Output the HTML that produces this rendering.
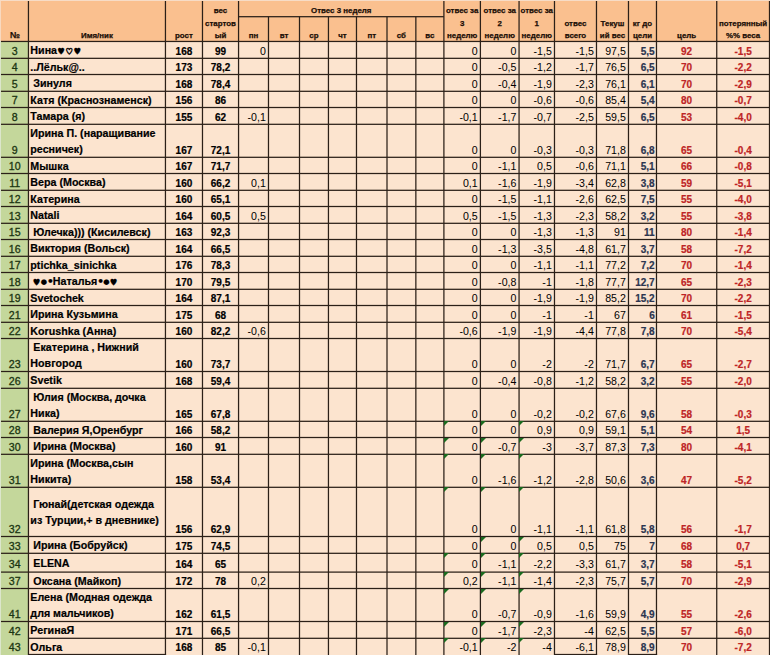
<!DOCTYPE html>
<html><head><meta charset="utf-8"><title>sheet</title>
<style>
html,body{margin:0;padding:0}
body{width:770px;height:655px;overflow:hidden;position:relative;background:#FCE4CF;font-family:"Liberation Sans", sans-serif}
.r{position:absolute}
.t{position:absolute;white-space:nowrap;line-height:14px;font-family:"Liberation Sans", sans-serif}
.hs{font-family:"NanumGothic","DejaVu Sans",sans-serif;font-size:8.6px}
.ho{font-family:"NanumGothic","DejaVu Sans",sans-serif;font-size:8.6px;font-weight:700;-webkit-text-stroke:0.4px #000}
.bd{font-family:"DejaVu Sans",sans-serif;font-size:7.2px;position:relative;top:-1.5px}
.sd{font-family:"DejaVu Sans",sans-serif;font-size:10.5px;letter-spacing:-0.8px}
.b{-webkit-text-stroke:0.2px currentColor}
.h{-webkit-text-stroke:0.25px #1a0e06}
.a{-webkit-text-stroke:0.3px #1a3510}
.g{position:absolute;left:0;top:0}
.tri{position:absolute;width:0;height:0;border-top:5px solid #1A6A1F;border-right:5px solid transparent}
</style></head><body>
<div class="r" style="left:0px;top:0px;width:770px;height:41px;background:#FAC08F;"></div>
<div class="r" style="left:0px;top:41px;width:770px;height:614px;background:#FCE4CF;"></div>
<div class="r" style="left:0px;top:41px;width:28px;height:614px;background:#C4D79B;"></div>
<div class="r" style="left:0px;top:0px;width:1px;height:41px;background:#F8D9C0;"></div>
<div class="r" style="left:0px;top:41px;width:1px;height:614px;background:#DCE6CC;"></div>
<div class="r" style="left:0px;top:0px;width:770px;height:1px;background:#F7DCC6;"></div>
<svg class="g" width="770" height="655" viewBox="0 0 770 655" fill="#2b2018"><rect x="27.825" y="1.000" width="1.25" height="654.000"/><rect x="164.825" y="1.000" width="1.25" height="654.000"/><rect x="201.855" y="1.000" width="1.25" height="654.000"/><rect x="237.925" y="1.000" width="1.25" height="654.000"/><rect x="267.855" y="16.700" width="1.25" height="638.300"/><rect x="298.875" y="16.700" width="1.25" height="638.300"/><rect x="327.825" y="16.700" width="1.25" height="638.300"/><rect x="355.855" y="16.700" width="1.25" height="638.300"/><rect x="386.375" y="16.700" width="1.25" height="638.300"/><rect x="415.225" y="16.700" width="1.25" height="638.300"/><rect x="443.275" y="1.000" width="1.25" height="654.000"/><rect x="479.775" y="1.000" width="1.25" height="654.000"/><rect x="518.435" y="1.000" width="1.25" height="654.000"/><rect x="553.855" y="1.000" width="1.25" height="654.000"/><rect x="595.855" y="1.000" width="1.25" height="654.000"/><rect x="627.855" y="1.000" width="1.25" height="654.000"/><rect x="655.855" y="1.000" width="1.25" height="654.000"/><rect x="716.115" y="1.000" width="1.25" height="654.000"/><rect x="768.875" y="1.000" width="1.25" height="654.000"/><rect x="238.550" y="16.075" width="205.350" height="1.25"/><rect x="1.000" y="40.835" width="769.000" height="1.25"/><rect x="1.000" y="57.705" width="769.000" height="1.25"/><rect x="1.000" y="73.875" width="769.000" height="1.25"/><rect x="1.000" y="90.675" width="769.000" height="1.25"/><rect x="1.000" y="106.875" width="769.000" height="1.25"/><rect x="1.000" y="123.675" width="769.000" height="1.25"/><rect x="1.000" y="156.675" width="769.000" height="1.25"/><rect x="1.000" y="172.875" width="769.000" height="1.25"/><rect x="1.000" y="189.675" width="769.000" height="1.25"/><rect x="1.000" y="205.875" width="769.000" height="1.25"/><rect x="1.000" y="222.675" width="769.000" height="1.25"/><rect x="1.000" y="238.875" width="769.000" height="1.25"/><rect x="1.000" y="255.675" width="769.000" height="1.25"/><rect x="1.000" y="271.875" width="769.000" height="1.25"/><rect x="1.000" y="288.675" width="769.000" height="1.25"/><rect x="1.000" y="304.875" width="769.000" height="1.25"/><rect x="1.000" y="321.675" width="769.000" height="1.25"/><rect x="1.000" y="337.875" width="769.000" height="1.25"/><rect x="1.000" y="370.875" width="769.000" height="1.25"/><rect x="1.000" y="387.675" width="769.000" height="1.25"/><rect x="1.000" y="420.675" width="769.000" height="1.25"/><rect x="1.000" y="436.875" width="769.000" height="1.25"/><rect x="1.000" y="453.675" width="769.000" height="1.25"/><rect x="1.000" y="486.675" width="769.000" height="1.25"/><rect x="1.000" y="535.875" width="769.000" height="1.25"/><rect x="1.000" y="552.675" width="769.000" height="1.25"/><rect x="1.000" y="571.475" width="769.000" height="1.25"/><rect x="1.000" y="587.875" width="769.000" height="1.25"/><rect x="1.000" y="620.875" width="769.000" height="1.25"/><rect x="28.450" y="637.675" width="741.550" height="1.25"/><rect x="28.450" y="653.875" width="137.625" height="1.25"/><rect x="554.480" y="653.875" width="42.625" height="1.25"/><rect x="628.480" y="653.875" width="28.625" height="1.25"/></svg>
<div class="t h" style="left:1.00px;width:27.45px;text-align:center;top:28.00px;font-size:8.8px;font-weight:700;color:#1a0e06">№</div>
<div class="t h" style="left:28.45px;width:137.00px;text-align:center;top:28.50px;font-size:7.9px;font-weight:700;color:#1a0e06">Имя/ник</div>
<div class="t h" style="left:165.45px;width:37.03px;text-align:center;top:28.50px;font-size:7.9px;font-weight:700;color:#1a0e06">рост</div>
<div class="t h" style="left:202.48px;width:36.07px;text-align:center;top:28.50px;font-size:7.9px;font-weight:700;color:#1a0e06">ый</div>
<div class="t h" style="left:202.48px;width:36.07px;text-align:center;top:16.50px;font-size:7.9px;font-weight:700;color:#1a0e06">стартов</div>
<div class="t h" style="left:202.48px;width:36.07px;text-align:center;top:3.50px;font-size:7.9px;font-weight:700;color:#1a0e06">вес</div>
<div class="t h" style="left:238.55px;width:29.93px;text-align:center;top:28.50px;font-size:7.9px;font-weight:700;color:#1a0e06">пн</div>
<div class="t h" style="left:268.48px;width:31.02px;text-align:center;top:28.50px;font-size:7.9px;font-weight:700;color:#1a0e06">вт</div>
<div class="t h" style="left:299.50px;width:28.95px;text-align:center;top:28.50px;font-size:7.9px;font-weight:700;color:#1a0e06">ср</div>
<div class="t h" style="left:328.45px;width:28.03px;text-align:center;top:28.50px;font-size:7.9px;font-weight:700;color:#1a0e06">чт</div>
<div class="t h" style="left:356.48px;width:30.52px;text-align:center;top:28.50px;font-size:7.9px;font-weight:700;color:#1a0e06">пт</div>
<div class="t h" style="left:387.00px;width:28.85px;text-align:center;top:28.50px;font-size:7.9px;font-weight:700;color:#1a0e06">сб</div>
<div class="t h" style="left:415.85px;width:28.05px;text-align:center;top:28.50px;font-size:7.9px;font-weight:700;color:#1a0e06">вс</div>
<div class="t h" style="left:238.55px;width:205.35px;text-align:center;top:3.50px;font-size:7.9px;font-weight:700;color:#1a0e06">Отвес 3 неделя</div>
<div class="t h" style="left:443.90px;width:36.50px;text-align:center;top:28.50px;font-size:7.9px;font-weight:700;color:#1a0e06">неделю</div>
<div class="t h" style="left:443.90px;width:36.50px;text-align:center;top:16.50px;font-size:7.9px;font-weight:700;color:#1a0e06">3</div>
<div class="t h" style="left:443.90px;width:36.50px;text-align:center;top:3.50px;font-size:7.9px;font-weight:700;color:#1a0e06">отвес за</div>
<div class="t h" style="left:480.40px;width:38.66px;text-align:center;top:28.50px;font-size:7.9px;font-weight:700;color:#1a0e06">неделю</div>
<div class="t h" style="left:480.40px;width:38.66px;text-align:center;top:16.50px;font-size:7.9px;font-weight:700;color:#1a0e06">2</div>
<div class="t h" style="left:480.40px;width:38.66px;text-align:center;top:3.50px;font-size:7.9px;font-weight:700;color:#1a0e06">отвес за</div>
<div class="t h" style="left:519.06px;width:35.42px;text-align:center;top:28.50px;font-size:7.9px;font-weight:700;color:#1a0e06">неделю</div>
<div class="t h" style="left:519.06px;width:35.42px;text-align:center;top:16.50px;font-size:7.9px;font-weight:700;color:#1a0e06">1</div>
<div class="t h" style="left:519.06px;width:35.42px;text-align:center;top:3.50px;font-size:7.9px;font-weight:700;color:#1a0e06">отвес за</div>
<div class="t h" style="left:554.48px;width:42.00px;text-align:center;top:28.50px;font-size:7.9px;font-weight:700;color:#1a0e06">всего</div>
<div class="t h" style="left:554.48px;width:42.00px;text-align:center;top:16.50px;font-size:7.9px;font-weight:700;color:#1a0e06">отвес</div>
<div class="t h" style="left:596.48px;width:32.00px;text-align:center;top:28.50px;font-size:7.9px;font-weight:700;color:#1a0e06">ий вес</div>
<div class="t h" style="left:596.48px;width:32.00px;text-align:center;top:16.50px;font-size:7.9px;font-weight:700;color:#1a0e06">Текуш</div>
<div class="t h" style="left:628.48px;width:28.00px;text-align:center;top:28.50px;font-size:7.9px;font-weight:700;color:#1a0e06">цели</div>
<div class="t h" style="left:628.48px;width:28.00px;text-align:center;top:16.50px;font-size:7.9px;font-weight:700;color:#1a0e06">кг до</div>
<div class="t h" style="left:656.48px;width:60.26px;text-align:center;top:28.50px;font-size:7.9px;font-weight:700;color:#1a0e06">цель</div>
<div class="t h" style="left:716.74px;width:52.76px;text-align:center;top:28.50px;font-size:7.9px;font-weight:700;color:#1a0e06">%% веса</div>
<div class="t h" style="left:716.74px;width:52.76px;text-align:center;top:16.50px;font-size:7.9px;font-weight:700;color:#1a0e06">потерянный</div>
<div class="t a" style="left:1.00px;width:27.45px;text-align:center;top:44.00px;font-size:10.6px;font-weight:400;color:#1a3510">3</div>
<div class="t b" style="left:30.35px;top:43.00px;font-size:10.7px;font-weight:700;color:#000">Нина<span class="hs">♥</span><span class="ho">♡</span><span class="hs">♥</span></div>
<div class="t b" style="left:165.45px;width:37.03px;text-align:center;top:44.50px;font-size:10.0px;font-weight:700;color:#000">168</div>
<div class="t b" style="left:202.48px;width:36.07px;text-align:center;top:44.50px;font-size:10.0px;font-weight:700;color:#000">99</div>
<div class="t" style="right:504.22px;top:44.00px;font-size:10.6px;font-weight:400;color:#000">0</div>
<div class="t" style="right:292.30px;top:44.00px;font-size:10.6px;font-weight:400;color:#000">0</div>
<div class="t" style="right:253.64px;top:44.00px;font-size:10.6px;font-weight:400;color:#000">0</div>
<div class="t" style="right:218.22px;top:44.00px;font-size:10.6px;font-weight:400;color:#000">-1,5</div>
<div class="t" style="right:176.22px;top:44.00px;font-size:10.6px;font-weight:400;color:#000">-1,5</div>
<div class="t" style="right:144.22px;top:44.00px;font-size:10.6px;font-weight:400;color:#000">97,5</div>
<div class="t b" style="right:115.32px;top:44.50px;font-size:10.0px;font-weight:700;color:#2B3550">5,5</div>
<div class="t b" style="left:656.48px;width:60.26px;text-align:center;top:44.50px;font-size:10.0px;font-weight:700;color:#BE2426">92</div>
<div class="t b" style="left:716.74px;width:52.76px;text-align:center;top:44.50px;font-size:10.0px;font-weight:700;color:#BE2426">-1,5</div>
<div class="t a" style="left:1.00px;width:27.45px;text-align:center;top:60.00px;font-size:10.6px;font-weight:400;color:#1a3510">4</div>
<div class="t b" style="left:30.35px;top:60.00px;font-size:10.7px;font-weight:700;color:#000">..Лёльк@..</div>
<div class="t b" style="left:165.45px;width:37.03px;text-align:center;top:60.50px;font-size:10.0px;font-weight:700;color:#000">173</div>
<div class="t b" style="left:202.48px;width:36.07px;text-align:center;top:60.50px;font-size:10.0px;font-weight:700;color:#000">78,2</div>
<div class="t" style="right:292.30px;top:60.00px;font-size:10.6px;font-weight:400;color:#000">0</div>
<div class="t" style="right:253.64px;top:60.00px;font-size:10.6px;font-weight:400;color:#000">-0,5</div>
<div class="t" style="right:218.22px;top:60.00px;font-size:10.6px;font-weight:400;color:#000">-1,2</div>
<div class="t" style="right:176.22px;top:60.00px;font-size:10.6px;font-weight:400;color:#000">-1,7</div>
<div class="t" style="right:144.22px;top:60.00px;font-size:10.6px;font-weight:400;color:#000">76,5</div>
<div class="t b" style="right:115.32px;top:60.50px;font-size:10.0px;font-weight:700;color:#2B3550">6,5</div>
<div class="t b" style="left:656.48px;width:60.26px;text-align:center;top:60.50px;font-size:10.0px;font-weight:700;color:#BE2426">70</div>
<div class="t b" style="left:716.74px;width:52.76px;text-align:center;top:60.50px;font-size:10.0px;font-weight:700;color:#BE2426">-2,2</div>
<div class="t a" style="left:1.00px;width:27.45px;text-align:center;top:77.00px;font-size:10.6px;font-weight:400;color:#1a3510">5</div>
<div class="t b" style="left:30.35px;top:76.00px;font-size:10.7px;font-weight:700;color:#000">&nbsp;Зинуля</div>
<div class="t b" style="left:165.45px;width:37.03px;text-align:center;top:77.50px;font-size:10.0px;font-weight:700;color:#000">168</div>
<div class="t b" style="left:202.48px;width:36.07px;text-align:center;top:77.50px;font-size:10.0px;font-weight:700;color:#000">78,4</div>
<div class="t" style="right:292.30px;top:77.00px;font-size:10.6px;font-weight:400;color:#000">0</div>
<div class="t" style="right:253.64px;top:77.00px;font-size:10.6px;font-weight:400;color:#000">-0,4</div>
<div class="t" style="right:218.22px;top:77.00px;font-size:10.6px;font-weight:400;color:#000">-1,9</div>
<div class="t" style="right:176.22px;top:77.00px;font-size:10.6px;font-weight:400;color:#000">-2,3</div>
<div class="t" style="right:144.22px;top:77.00px;font-size:10.6px;font-weight:400;color:#000">76,1</div>
<div class="t b" style="right:115.32px;top:77.50px;font-size:10.0px;font-weight:700;color:#2B3550">6,1</div>
<div class="t b" style="left:656.48px;width:60.26px;text-align:center;top:77.50px;font-size:10.0px;font-weight:700;color:#BE2426">70</div>
<div class="t b" style="left:716.74px;width:52.76px;text-align:center;top:77.50px;font-size:10.0px;font-weight:700;color:#BE2426">-2,9</div>
<div class="t a" style="left:1.00px;width:27.45px;text-align:center;top:93.00px;font-size:10.6px;font-weight:400;color:#1a3510">7</div>
<div class="t b" style="left:30.35px;top:93.00px;font-size:10.7px;font-weight:700;color:#000">Катя (Краснознаменск)</div>
<div class="t b" style="left:165.45px;width:37.03px;text-align:center;top:93.50px;font-size:10.0px;font-weight:700;color:#000">156</div>
<div class="t b" style="left:202.48px;width:36.07px;text-align:center;top:93.50px;font-size:10.0px;font-weight:700;color:#000">86</div>
<div class="t" style="right:292.30px;top:93.00px;font-size:10.6px;font-weight:400;color:#000">0</div>
<div class="t" style="right:253.64px;top:93.00px;font-size:10.6px;font-weight:400;color:#000">0</div>
<div class="t" style="right:218.22px;top:93.00px;font-size:10.6px;font-weight:400;color:#000">-0,6</div>
<div class="t" style="right:176.22px;top:93.00px;font-size:10.6px;font-weight:400;color:#000">-0,6</div>
<div class="t" style="right:144.22px;top:93.00px;font-size:10.6px;font-weight:400;color:#000">85,4</div>
<div class="t b" style="right:115.32px;top:93.50px;font-size:10.0px;font-weight:700;color:#2B3550">5,4</div>
<div class="t b" style="left:656.48px;width:60.26px;text-align:center;top:93.50px;font-size:10.0px;font-weight:700;color:#BE2426">80</div>
<div class="t b" style="left:716.74px;width:52.76px;text-align:center;top:93.50px;font-size:10.0px;font-weight:700;color:#BE2426">-0,7</div>
<div class="t a" style="left:1.00px;width:27.45px;text-align:center;top:110.00px;font-size:10.6px;font-weight:400;color:#1a3510">8</div>
<div class="t b" style="left:30.35px;top:109.00px;font-size:10.7px;font-weight:700;color:#000">Тамара (я)</div>
<div class="t b" style="left:165.45px;width:37.03px;text-align:center;top:110.50px;font-size:10.0px;font-weight:700;color:#000">155</div>
<div class="t b" style="left:202.48px;width:36.07px;text-align:center;top:110.50px;font-size:10.0px;font-weight:700;color:#000">62</div>
<div class="t" style="right:504.22px;top:110.00px;font-size:10.6px;font-weight:400;color:#000">-0,1</div>
<div class="t" style="right:292.30px;top:110.00px;font-size:10.6px;font-weight:400;color:#000">-0,1</div>
<div class="t" style="right:253.64px;top:110.00px;font-size:10.6px;font-weight:400;color:#000">-1,7</div>
<div class="t" style="right:218.22px;top:110.00px;font-size:10.6px;font-weight:400;color:#000">-0,7</div>
<div class="t" style="right:176.22px;top:110.00px;font-size:10.6px;font-weight:400;color:#000">-2,5</div>
<div class="t" style="right:144.22px;top:110.00px;font-size:10.6px;font-weight:400;color:#000">59,5</div>
<div class="t b" style="right:115.32px;top:110.50px;font-size:10.0px;font-weight:700;color:#2B3550">6,5</div>
<div class="t b" style="left:656.48px;width:60.26px;text-align:center;top:110.50px;font-size:10.0px;font-weight:700;color:#BE2426">53</div>
<div class="t b" style="left:716.74px;width:52.76px;text-align:center;top:110.50px;font-size:10.0px;font-weight:700;color:#BE2426">-4,0</div>
<div class="t a" style="left:1.00px;width:27.45px;text-align:center;top:143.00px;font-size:10.6px;font-weight:400;color:#1a3510">9</div>
<div class="t b" style="left:30.35px;top:126.00px;font-size:10.7px;font-weight:700;color:#000">Ирина П. (наращивание</div>
<div class="t b" style="left:30.35px;top:142.00px;font-size:10.7px;font-weight:700;color:#000">ресничек)</div>
<div class="t b" style="left:165.45px;width:37.03px;text-align:center;top:143.50px;font-size:10.0px;font-weight:700;color:#000">167</div>
<div class="t b" style="left:202.48px;width:36.07px;text-align:center;top:143.50px;font-size:10.0px;font-weight:700;color:#000">72,1</div>
<div class="t" style="right:292.30px;top:143.00px;font-size:10.6px;font-weight:400;color:#000">0</div>
<div class="t" style="right:253.64px;top:143.00px;font-size:10.6px;font-weight:400;color:#000">0</div>
<div class="t" style="right:218.22px;top:143.00px;font-size:10.6px;font-weight:400;color:#000">-0,3</div>
<div class="t" style="right:176.22px;top:143.00px;font-size:10.6px;font-weight:400;color:#000">-0,3</div>
<div class="t" style="right:144.22px;top:143.00px;font-size:10.6px;font-weight:400;color:#000">71,8</div>
<div class="t b" style="right:115.32px;top:143.50px;font-size:10.0px;font-weight:700;color:#2B3550">6,8</div>
<div class="t b" style="left:656.48px;width:60.26px;text-align:center;top:143.50px;font-size:10.0px;font-weight:700;color:#BE2426">65</div>
<div class="t b" style="left:716.74px;width:52.76px;text-align:center;top:143.50px;font-size:10.0px;font-weight:700;color:#BE2426">-0,4</div>
<div class="t a" style="left:1.00px;width:27.45px;text-align:center;top:159.00px;font-size:10.6px;font-weight:400;color:#1a3510">10</div>
<div class="t b" style="left:30.35px;top:159.00px;font-size:10.7px;font-weight:700;color:#000">Мышка</div>
<div class="t b" style="left:165.45px;width:37.03px;text-align:center;top:159.50px;font-size:10.0px;font-weight:700;color:#000">167</div>
<div class="t b" style="left:202.48px;width:36.07px;text-align:center;top:159.50px;font-size:10.0px;font-weight:700;color:#000">71,7</div>
<div class="t" style="right:292.30px;top:159.00px;font-size:10.6px;font-weight:400;color:#000">0</div>
<div class="t" style="right:253.64px;top:159.00px;font-size:10.6px;font-weight:400;color:#000">-1,1</div>
<div class="t" style="right:218.22px;top:159.00px;font-size:10.6px;font-weight:400;color:#000">0,5</div>
<div class="t" style="right:176.22px;top:159.00px;font-size:10.6px;font-weight:400;color:#000">-0,6</div>
<div class="t" style="right:144.22px;top:159.00px;font-size:10.6px;font-weight:400;color:#000">71,1</div>
<div class="t b" style="right:115.32px;top:159.50px;font-size:10.0px;font-weight:700;color:#2B3550">5,1</div>
<div class="t b" style="left:656.48px;width:60.26px;text-align:center;top:159.50px;font-size:10.0px;font-weight:700;color:#BE2426">66</div>
<div class="t b" style="left:716.74px;width:52.76px;text-align:center;top:159.50px;font-size:10.0px;font-weight:700;color:#BE2426">-0,8</div>
<div class="t a" style="left:1.00px;width:27.45px;text-align:center;top:176.00px;font-size:10.6px;font-weight:400;color:#1a3510">11</div>
<div class="t b" style="left:30.35px;top:175.00px;font-size:10.7px;font-weight:700;color:#000">Вера (Москва)</div>
<div class="t b" style="left:165.45px;width:37.03px;text-align:center;top:176.50px;font-size:10.0px;font-weight:700;color:#000">160</div>
<div class="t b" style="left:202.48px;width:36.07px;text-align:center;top:176.50px;font-size:10.0px;font-weight:700;color:#000">66,2</div>
<div class="t" style="right:504.22px;top:176.00px;font-size:10.6px;font-weight:400;color:#000">0,1</div>
<div class="t" style="right:292.30px;top:176.00px;font-size:10.6px;font-weight:400;color:#000">0,1</div>
<div class="t" style="right:253.64px;top:176.00px;font-size:10.6px;font-weight:400;color:#000">-1,6</div>
<div class="t" style="right:218.22px;top:176.00px;font-size:10.6px;font-weight:400;color:#000">-1,9</div>
<div class="t" style="right:176.22px;top:176.00px;font-size:10.6px;font-weight:400;color:#000">-3,4</div>
<div class="t" style="right:144.22px;top:176.00px;font-size:10.6px;font-weight:400;color:#000">62,8</div>
<div class="t b" style="right:115.32px;top:176.50px;font-size:10.0px;font-weight:700;color:#2B3550">3,8</div>
<div class="t b" style="left:656.48px;width:60.26px;text-align:center;top:176.50px;font-size:10.0px;font-weight:700;color:#BE2426">59</div>
<div class="t b" style="left:716.74px;width:52.76px;text-align:center;top:176.50px;font-size:10.0px;font-weight:700;color:#BE2426">-5,1</div>
<div class="t a" style="left:1.00px;width:27.45px;text-align:center;top:192.00px;font-size:10.6px;font-weight:400;color:#1a3510">12</div>
<div class="t b" style="left:30.35px;top:192.00px;font-size:10.7px;font-weight:700;color:#000">Катерина</div>
<div class="t b" style="left:165.45px;width:37.03px;text-align:center;top:192.50px;font-size:10.0px;font-weight:700;color:#000">160</div>
<div class="t b" style="left:202.48px;width:36.07px;text-align:center;top:192.50px;font-size:10.0px;font-weight:700;color:#000">65,1</div>
<div class="t" style="right:292.30px;top:192.00px;font-size:10.6px;font-weight:400;color:#000">0</div>
<div class="t" style="right:253.64px;top:192.00px;font-size:10.6px;font-weight:400;color:#000">-1,5</div>
<div class="t" style="right:218.22px;top:192.00px;font-size:10.6px;font-weight:400;color:#000">-1,1</div>
<div class="t" style="right:176.22px;top:192.00px;font-size:10.6px;font-weight:400;color:#000">-2,6</div>
<div class="t" style="right:144.22px;top:192.00px;font-size:10.6px;font-weight:400;color:#000">62,5</div>
<div class="t b" style="right:115.32px;top:192.50px;font-size:10.0px;font-weight:700;color:#2B3550">7,5</div>
<div class="t b" style="left:656.48px;width:60.26px;text-align:center;top:192.50px;font-size:10.0px;font-weight:700;color:#BE2426">55</div>
<div class="t b" style="left:716.74px;width:52.76px;text-align:center;top:192.50px;font-size:10.0px;font-weight:700;color:#BE2426">-4,0</div>
<div class="t a" style="left:1.00px;width:27.45px;text-align:center;top:209.00px;font-size:10.6px;font-weight:400;color:#1a3510">13</div>
<div class="t b" style="left:30.35px;top:208.00px;font-size:10.7px;font-weight:700;color:#000">Natali</div>
<div class="t b" style="left:165.45px;width:37.03px;text-align:center;top:209.50px;font-size:10.0px;font-weight:700;color:#000">164</div>
<div class="t b" style="left:202.48px;width:36.07px;text-align:center;top:209.50px;font-size:10.0px;font-weight:700;color:#000">60,5</div>
<div class="t" style="right:504.22px;top:209.00px;font-size:10.6px;font-weight:400;color:#000">0,5</div>
<div class="t" style="right:292.30px;top:209.00px;font-size:10.6px;font-weight:400;color:#000">0,5</div>
<div class="t" style="right:253.64px;top:209.00px;font-size:10.6px;font-weight:400;color:#000">-1,5</div>
<div class="t" style="right:218.22px;top:209.00px;font-size:10.6px;font-weight:400;color:#000">-1,3</div>
<div class="t" style="right:176.22px;top:209.00px;font-size:10.6px;font-weight:400;color:#000">-2,3</div>
<div class="t" style="right:144.22px;top:209.00px;font-size:10.6px;font-weight:400;color:#000">58,2</div>
<div class="t b" style="right:115.32px;top:209.50px;font-size:10.0px;font-weight:700;color:#2B3550">3,2</div>
<div class="t b" style="left:656.48px;width:60.26px;text-align:center;top:209.50px;font-size:10.0px;font-weight:700;color:#BE2426">55</div>
<div class="t b" style="left:716.74px;width:52.76px;text-align:center;top:209.50px;font-size:10.0px;font-weight:700;color:#BE2426">-3,8</div>
<div class="t a" style="left:1.00px;width:27.45px;text-align:center;top:225.00px;font-size:10.6px;font-weight:400;color:#1a3510">15</div>
<div class="t b" style="left:30.35px;top:225.00px;font-size:10.7px;font-weight:700;color:#000">&nbsp;Юлечка)))&nbsp;(Кисилевск)</div>
<div class="t b" style="left:165.45px;width:37.03px;text-align:center;top:225.50px;font-size:10.0px;font-weight:700;color:#000">163</div>
<div class="t b" style="left:202.48px;width:36.07px;text-align:center;top:225.50px;font-size:10.0px;font-weight:700;color:#000">92,3</div>
<div class="t" style="right:292.30px;top:225.00px;font-size:10.6px;font-weight:400;color:#000">0</div>
<div class="t" style="right:253.64px;top:225.00px;font-size:10.6px;font-weight:400;color:#000">0</div>
<div class="t" style="right:218.22px;top:225.00px;font-size:10.6px;font-weight:400;color:#000">-1,3</div>
<div class="t" style="right:176.22px;top:225.00px;font-size:10.6px;font-weight:400;color:#000">-1,3</div>
<div class="t" style="right:144.22px;top:225.00px;font-size:10.6px;font-weight:400;color:#000">91</div>
<div class="t b" style="right:115.32px;top:225.50px;font-size:10.0px;font-weight:700;color:#2B3550">11</div>
<div class="t b" style="left:656.48px;width:60.26px;text-align:center;top:225.50px;font-size:10.0px;font-weight:700;color:#BE2426">80</div>
<div class="t b" style="left:716.74px;width:52.76px;text-align:center;top:225.50px;font-size:10.0px;font-weight:700;color:#BE2426">-1,4</div>
<div class="t a" style="left:1.00px;width:27.45px;text-align:center;top:242.00px;font-size:10.6px;font-weight:400;color:#1a3510">16</div>
<div class="t b" style="left:30.35px;top:241.00px;font-size:10.7px;font-weight:700;color:#000">Виктория (Вольск)</div>
<div class="t b" style="left:165.45px;width:37.03px;text-align:center;top:242.50px;font-size:10.0px;font-weight:700;color:#000">164</div>
<div class="t b" style="left:202.48px;width:36.07px;text-align:center;top:242.50px;font-size:10.0px;font-weight:700;color:#000">66,5</div>
<div class="t" style="right:292.30px;top:242.00px;font-size:10.6px;font-weight:400;color:#000">0</div>
<div class="t" style="right:253.64px;top:242.00px;font-size:10.6px;font-weight:400;color:#000">-1,3</div>
<div class="t" style="right:218.22px;top:242.00px;font-size:10.6px;font-weight:400;color:#000">-3,5</div>
<div class="t" style="right:176.22px;top:242.00px;font-size:10.6px;font-weight:400;color:#000">-4,8</div>
<div class="t" style="right:144.22px;top:242.00px;font-size:10.6px;font-weight:400;color:#000">61,7</div>
<div class="t b" style="right:115.32px;top:242.50px;font-size:10.0px;font-weight:700;color:#2B3550">3,7</div>
<div class="t b" style="left:656.48px;width:60.26px;text-align:center;top:242.50px;font-size:10.0px;font-weight:700;color:#BE2426">58</div>
<div class="t b" style="left:716.74px;width:52.76px;text-align:center;top:242.50px;font-size:10.0px;font-weight:700;color:#BE2426">-7,2</div>
<div class="t a" style="left:1.00px;width:27.45px;text-align:center;top:258.00px;font-size:10.6px;font-weight:400;color:#1a3510">17</div>
<div class="t b" style="left:30.35px;top:258.00px;font-size:10.7px;font-weight:700;color:#000">ptichka_sinichka</div>
<div class="t b" style="left:165.45px;width:37.03px;text-align:center;top:258.50px;font-size:10.0px;font-weight:700;color:#000">176</div>
<div class="t b" style="left:202.48px;width:36.07px;text-align:center;top:258.50px;font-size:10.0px;font-weight:700;color:#000">78,3</div>
<div class="t" style="right:292.30px;top:258.00px;font-size:10.6px;font-weight:400;color:#000">0</div>
<div class="t" style="right:253.64px;top:258.00px;font-size:10.6px;font-weight:400;color:#000">0</div>
<div class="t" style="right:218.22px;top:258.00px;font-size:10.6px;font-weight:400;color:#000">-1,1</div>
<div class="t" style="right:176.22px;top:258.00px;font-size:10.6px;font-weight:400;color:#000">-1,1</div>
<div class="t" style="right:144.22px;top:258.00px;font-size:10.6px;font-weight:400;color:#000">77,2</div>
<div class="t b" style="right:115.32px;top:258.50px;font-size:10.0px;font-weight:700;color:#2B3550">7,2</div>
<div class="t b" style="left:656.48px;width:60.26px;text-align:center;top:258.50px;font-size:10.0px;font-weight:700;color:#BE2426">70</div>
<div class="t b" style="left:716.74px;width:52.76px;text-align:center;top:258.50px;font-size:10.0px;font-weight:700;color:#BE2426">-1,4</div>
<div class="t a" style="left:1.00px;width:27.45px;text-align:center;top:275.00px;font-size:10.6px;font-weight:400;color:#1a3510">18</div>
<div class="t b" style="left:30.35px;top:274.00px;font-size:10.7px;font-weight:700;color:#000"><span style="margin-left:2.2px" class="hs">♥</span><span class="bd">●</span><span class="sd">•</span>Наталья<span class="sd">•</span><span class="bd">●</span><span class="hs">♥</span></div>
<div class="t b" style="left:165.45px;width:37.03px;text-align:center;top:275.50px;font-size:10.0px;font-weight:700;color:#000">170</div>
<div class="t b" style="left:202.48px;width:36.07px;text-align:center;top:275.50px;font-size:10.0px;font-weight:700;color:#000">79,5</div>
<div class="t" style="right:292.30px;top:275.00px;font-size:10.6px;font-weight:400;color:#000">0</div>
<div class="t" style="right:253.64px;top:275.00px;font-size:10.6px;font-weight:400;color:#000">-0,8</div>
<div class="t" style="right:218.22px;top:275.00px;font-size:10.6px;font-weight:400;color:#000">-1</div>
<div class="t" style="right:176.22px;top:275.00px;font-size:10.6px;font-weight:400;color:#000">-1,8</div>
<div class="t" style="right:144.22px;top:275.00px;font-size:10.6px;font-weight:400;color:#000">77,7</div>
<div class="t b" style="right:115.32px;top:275.50px;font-size:10.0px;font-weight:700;color:#2B3550">12,7</div>
<div class="t b" style="left:656.48px;width:60.26px;text-align:center;top:275.50px;font-size:10.0px;font-weight:700;color:#BE2426">65</div>
<div class="t b" style="left:716.74px;width:52.76px;text-align:center;top:275.50px;font-size:10.0px;font-weight:700;color:#BE2426">-2,3</div>
<div class="t a" style="left:1.00px;width:27.45px;text-align:center;top:291.00px;font-size:10.6px;font-weight:400;color:#1a3510">19</div>
<div class="t b" style="left:30.35px;top:291.00px;font-size:10.7px;font-weight:700;color:#000">Svetochek</div>
<div class="t b" style="left:165.45px;width:37.03px;text-align:center;top:291.50px;font-size:10.0px;font-weight:700;color:#000">164</div>
<div class="t b" style="left:202.48px;width:36.07px;text-align:center;top:291.50px;font-size:10.0px;font-weight:700;color:#000">87,1</div>
<div class="t" style="right:292.30px;top:291.00px;font-size:10.6px;font-weight:400;color:#000">0</div>
<div class="t" style="right:253.64px;top:291.00px;font-size:10.6px;font-weight:400;color:#000">0</div>
<div class="t" style="right:218.22px;top:291.00px;font-size:10.6px;font-weight:400;color:#000">-1,9</div>
<div class="t" style="right:176.22px;top:291.00px;font-size:10.6px;font-weight:400;color:#000">-1,9</div>
<div class="t" style="right:144.22px;top:291.00px;font-size:10.6px;font-weight:400;color:#000">85,2</div>
<div class="t b" style="right:115.32px;top:291.50px;font-size:10.0px;font-weight:700;color:#2B3550">15,2</div>
<div class="t b" style="left:656.48px;width:60.26px;text-align:center;top:291.50px;font-size:10.0px;font-weight:700;color:#BE2426">70</div>
<div class="t b" style="left:716.74px;width:52.76px;text-align:center;top:291.50px;font-size:10.0px;font-weight:700;color:#BE2426">-2,2</div>
<div class="t a" style="left:1.00px;width:27.45px;text-align:center;top:308.00px;font-size:10.6px;font-weight:400;color:#1a3510">21</div>
<div class="t b" style="left:30.35px;top:307.00px;font-size:10.7px;font-weight:700;color:#000">Ирина Кузьмина</div>
<div class="t b" style="left:165.45px;width:37.03px;text-align:center;top:308.50px;font-size:10.0px;font-weight:700;color:#000">175</div>
<div class="t b" style="left:202.48px;width:36.07px;text-align:center;top:308.50px;font-size:10.0px;font-weight:700;color:#000">68</div>
<div class="t" style="right:292.30px;top:308.00px;font-size:10.6px;font-weight:400;color:#000">0</div>
<div class="t" style="right:253.64px;top:308.00px;font-size:10.6px;font-weight:400;color:#000">0</div>
<div class="t" style="right:218.22px;top:308.00px;font-size:10.6px;font-weight:400;color:#000">-1</div>
<div class="t" style="right:176.22px;top:308.00px;font-size:10.6px;font-weight:400;color:#000">-1</div>
<div class="t" style="right:144.22px;top:308.00px;font-size:10.6px;font-weight:400;color:#000">67</div>
<div class="t b" style="right:115.32px;top:308.50px;font-size:10.0px;font-weight:700;color:#2B3550">6</div>
<div class="t b" style="left:656.48px;width:60.26px;text-align:center;top:308.50px;font-size:10.0px;font-weight:700;color:#BE2426">61</div>
<div class="t b" style="left:716.74px;width:52.76px;text-align:center;top:308.50px;font-size:10.0px;font-weight:700;color:#BE2426">-1,5</div>
<div class="t a" style="left:1.00px;width:27.45px;text-align:center;top:324.00px;font-size:10.6px;font-weight:400;color:#1a3510">22</div>
<div class="t b" style="left:30.35px;top:324.00px;font-size:10.7px;font-weight:700;color:#000">Korushka (Анна)</div>
<div class="t b" style="left:165.45px;width:37.03px;text-align:center;top:324.50px;font-size:10.0px;font-weight:700;color:#000">160</div>
<div class="t b" style="left:202.48px;width:36.07px;text-align:center;top:324.50px;font-size:10.0px;font-weight:700;color:#000">82,2</div>
<div class="t" style="right:504.22px;top:324.00px;font-size:10.6px;font-weight:400;color:#000">-0,6</div>
<div class="t" style="right:292.30px;top:324.00px;font-size:10.6px;font-weight:400;color:#000">-0,6</div>
<div class="t" style="right:253.64px;top:324.00px;font-size:10.6px;font-weight:400;color:#000">-1,9</div>
<div class="t" style="right:218.22px;top:324.00px;font-size:10.6px;font-weight:400;color:#000">-1,9</div>
<div class="t" style="right:176.22px;top:324.00px;font-size:10.6px;font-weight:400;color:#000">-4,4</div>
<div class="t" style="right:144.22px;top:324.00px;font-size:10.6px;font-weight:400;color:#000">77,8</div>
<div class="t b" style="right:115.32px;top:324.50px;font-size:10.0px;font-weight:700;color:#2B3550">7,8</div>
<div class="t b" style="left:656.48px;width:60.26px;text-align:center;top:324.50px;font-size:10.0px;font-weight:700;color:#BE2426">70</div>
<div class="t b" style="left:716.74px;width:52.76px;text-align:center;top:324.50px;font-size:10.0px;font-weight:700;color:#BE2426">-5,4</div>
<div class="t a" style="left:1.00px;width:27.45px;text-align:center;top:357.00px;font-size:10.6px;font-weight:400;color:#1a3510">23</div>
<div class="t b" style="left:30.35px;top:340.00px;font-size:10.7px;font-weight:700;color:#000">&nbsp;Екатерина&nbsp;,&nbsp;Нижний</div>
<div class="t b" style="left:30.35px;top:356.00px;font-size:10.7px;font-weight:700;color:#000">Новгород</div>
<div class="t b" style="left:165.45px;width:37.03px;text-align:center;top:357.50px;font-size:10.0px;font-weight:700;color:#000">160</div>
<div class="t b" style="left:202.48px;width:36.07px;text-align:center;top:357.50px;font-size:10.0px;font-weight:700;color:#000">73,7</div>
<div class="t" style="right:292.30px;top:357.00px;font-size:10.6px;font-weight:400;color:#000">0</div>
<div class="t" style="right:253.64px;top:357.00px;font-size:10.6px;font-weight:400;color:#000">0</div>
<div class="t" style="right:218.22px;top:357.00px;font-size:10.6px;font-weight:400;color:#000">-2</div>
<div class="t" style="right:176.22px;top:357.00px;font-size:10.6px;font-weight:400;color:#000">-2</div>
<div class="t" style="right:144.22px;top:357.00px;font-size:10.6px;font-weight:400;color:#000">71,7</div>
<div class="t b" style="right:115.32px;top:357.50px;font-size:10.0px;font-weight:700;color:#2B3550">6,7</div>
<div class="t b" style="left:656.48px;width:60.26px;text-align:center;top:357.50px;font-size:10.0px;font-weight:700;color:#BE2426">65</div>
<div class="t b" style="left:716.74px;width:52.76px;text-align:center;top:357.50px;font-size:10.0px;font-weight:700;color:#BE2426">-2,7</div>
<div class="t a" style="left:1.00px;width:27.45px;text-align:center;top:374.00px;font-size:10.6px;font-weight:400;color:#1a3510">26</div>
<div class="t b" style="left:30.35px;top:373.00px;font-size:10.7px;font-weight:700;color:#000">Svetik</div>
<div class="t b" style="left:165.45px;width:37.03px;text-align:center;top:374.50px;font-size:10.0px;font-weight:700;color:#000">168</div>
<div class="t b" style="left:202.48px;width:36.07px;text-align:center;top:374.50px;font-size:10.0px;font-weight:700;color:#000">59,4</div>
<div class="t" style="right:292.30px;top:374.00px;font-size:10.6px;font-weight:400;color:#000">0</div>
<div class="t" style="right:253.64px;top:374.00px;font-size:10.6px;font-weight:400;color:#000">-0,4</div>
<div class="t" style="right:218.22px;top:374.00px;font-size:10.6px;font-weight:400;color:#000">-0,8</div>
<div class="t" style="right:176.22px;top:374.00px;font-size:10.6px;font-weight:400;color:#000">-1,2</div>
<div class="t" style="right:144.22px;top:374.00px;font-size:10.6px;font-weight:400;color:#000">58,2</div>
<div class="t b" style="right:115.32px;top:374.50px;font-size:10.0px;font-weight:700;color:#2B3550">3,2</div>
<div class="t b" style="left:656.48px;width:60.26px;text-align:center;top:374.50px;font-size:10.0px;font-weight:700;color:#BE2426">55</div>
<div class="t b" style="left:716.74px;width:52.76px;text-align:center;top:374.50px;font-size:10.0px;font-weight:700;color:#BE2426">-2,0</div>
<div class="t a" style="left:1.00px;width:27.45px;text-align:center;top:407.00px;font-size:10.6px;font-weight:400;color:#1a3510">27</div>
<div class="t b" style="left:30.35px;top:390.00px;font-size:10.7px;font-weight:700;color:#000">&nbsp;Юлия&nbsp;(Москва,&nbsp;дочка</div>
<div class="t b" style="left:30.35px;top:406.00px;font-size:10.7px;font-weight:700;color:#000">Ника)</div>
<div class="t b" style="left:165.45px;width:37.03px;text-align:center;top:407.50px;font-size:10.0px;font-weight:700;color:#000">165</div>
<div class="t b" style="left:202.48px;width:36.07px;text-align:center;top:407.50px;font-size:10.0px;font-weight:700;color:#000">67,8</div>
<div class="t" style="right:292.30px;top:407.00px;font-size:10.6px;font-weight:400;color:#000">0</div>
<div class="t" style="right:253.64px;top:407.00px;font-size:10.6px;font-weight:400;color:#000">0</div>
<div class="t" style="right:218.22px;top:407.00px;font-size:10.6px;font-weight:400;color:#000">-0,2</div>
<div class="t" style="right:176.22px;top:407.00px;font-size:10.6px;font-weight:400;color:#000">-0,2</div>
<div class="t" style="right:144.22px;top:407.00px;font-size:10.6px;font-weight:400;color:#000">67,6</div>
<div class="t b" style="right:115.32px;top:407.50px;font-size:10.0px;font-weight:700;color:#2B3550">9,6</div>
<div class="t b" style="left:656.48px;width:60.26px;text-align:center;top:407.50px;font-size:10.0px;font-weight:700;color:#BE2426">58</div>
<div class="t b" style="left:716.74px;width:52.76px;text-align:center;top:407.50px;font-size:10.0px;font-weight:700;color:#BE2426">-0,3</div>
<div class="t a" style="left:1.00px;width:27.45px;text-align:center;top:423.00px;font-size:10.6px;font-weight:400;color:#1a3510">28</div>
<div class="t b" style="left:30.35px;top:423.00px;font-size:10.7px;font-weight:700;color:#000">&nbsp;Валерия&nbsp;Я,Оренбург</div>
<div class="t b" style="left:165.45px;width:37.03px;text-align:center;top:423.50px;font-size:10.0px;font-weight:700;color:#000">166</div>
<div class="t b" style="left:202.48px;width:36.07px;text-align:center;top:423.50px;font-size:10.0px;font-weight:700;color:#000">58,2</div>
<div class="t" style="right:292.30px;top:423.00px;font-size:10.6px;font-weight:400;color:#000">0</div>
<div class="t" style="right:253.64px;top:423.00px;font-size:10.6px;font-weight:400;color:#000">0</div>
<div class="t" style="right:218.22px;top:423.00px;font-size:10.6px;font-weight:400;color:#000">0,9</div>
<div class="t" style="right:176.22px;top:423.00px;font-size:10.6px;font-weight:400;color:#000">0,9</div>
<div class="t" style="right:144.22px;top:423.00px;font-size:10.6px;font-weight:400;color:#000">59,1</div>
<div class="t b" style="right:115.32px;top:423.50px;font-size:10.0px;font-weight:700;color:#2B3550">5,1</div>
<div class="t b" style="left:656.48px;width:60.26px;text-align:center;top:423.50px;font-size:10.0px;font-weight:700;color:#BE2426">54</div>
<div class="t b" style="left:716.74px;width:52.76px;text-align:center;top:423.50px;font-size:10.0px;font-weight:700;color:#BE2426">1,5</div>
<div class="tri" style="left:444px;top:421px"></div>
<div class="tri" style="left:481px;top:421px"></div>
<div class="tri" style="left:519px;top:421px"></div>
<div class="t a" style="left:1.00px;width:27.45px;text-align:center;top:440.00px;font-size:10.6px;font-weight:400;color:#1a3510">30</div>
<div class="t b" style="left:30.35px;top:439.00px;font-size:10.7px;font-weight:700;color:#000">&nbsp;Ирина&nbsp;(Москва)</div>
<div class="t b" style="left:165.45px;width:37.03px;text-align:center;top:440.50px;font-size:10.0px;font-weight:700;color:#000">160</div>
<div class="t b" style="left:202.48px;width:36.07px;text-align:center;top:440.50px;font-size:10.0px;font-weight:700;color:#000">91</div>
<div class="t" style="right:292.30px;top:440.00px;font-size:10.6px;font-weight:400;color:#000">0</div>
<div class="t" style="right:253.64px;top:440.00px;font-size:10.6px;font-weight:400;color:#000">-0,7</div>
<div class="t" style="right:218.22px;top:440.00px;font-size:10.6px;font-weight:400;color:#000">-3</div>
<div class="t" style="right:176.22px;top:440.00px;font-size:10.6px;font-weight:400;color:#000">-3,7</div>
<div class="t" style="right:144.22px;top:440.00px;font-size:10.6px;font-weight:400;color:#000">87,3</div>
<div class="t b" style="right:115.32px;top:440.50px;font-size:10.0px;font-weight:700;color:#2B3550">7,3</div>
<div class="t b" style="left:656.48px;width:60.26px;text-align:center;top:440.50px;font-size:10.0px;font-weight:700;color:#BE2426">80</div>
<div class="t b" style="left:716.74px;width:52.76px;text-align:center;top:440.50px;font-size:10.0px;font-weight:700;color:#BE2426">-4,1</div>
<div class="tri" style="left:444px;top:438px"></div>
<div class="tri" style="left:481px;top:438px"></div>
<div class="tri" style="left:519px;top:438px"></div>
<div class="t a" style="left:1.00px;width:27.45px;text-align:center;top:473.00px;font-size:10.6px;font-weight:400;color:#1a3510">31</div>
<div class="t b" style="left:30.35px;top:456.00px;font-size:10.7px;font-weight:700;color:#000">Ирина (Москва,сын</div>
<div class="t b" style="left:30.35px;top:472.00px;font-size:10.7px;font-weight:700;color:#000">Никита)</div>
<div class="t b" style="left:165.45px;width:37.03px;text-align:center;top:473.50px;font-size:10.0px;font-weight:700;color:#000">158</div>
<div class="t b" style="left:202.48px;width:36.07px;text-align:center;top:473.50px;font-size:10.0px;font-weight:700;color:#000">53,4</div>
<div class="t" style="right:292.30px;top:473.00px;font-size:10.6px;font-weight:400;color:#000">0</div>
<div class="t" style="right:253.64px;top:473.00px;font-size:10.6px;font-weight:400;color:#000">-1,6</div>
<div class="t" style="right:218.22px;top:473.00px;font-size:10.6px;font-weight:400;color:#000">-1,2</div>
<div class="t" style="right:176.22px;top:473.00px;font-size:10.6px;font-weight:400;color:#000">-2,8</div>
<div class="t" style="right:144.22px;top:473.00px;font-size:10.6px;font-weight:400;color:#000">50,6</div>
<div class="t b" style="right:115.32px;top:473.50px;font-size:10.0px;font-weight:700;color:#2B3550">3,6</div>
<div class="t b" style="left:656.48px;width:60.26px;text-align:center;top:473.50px;font-size:10.0px;font-weight:700;color:#BE2426">47</div>
<div class="t b" style="left:716.74px;width:52.76px;text-align:center;top:473.50px;font-size:10.0px;font-weight:700;color:#BE2426">-5,2</div>
<div class="tri" style="left:444px;top:454px"></div>
<div class="tri" style="left:481px;top:454px"></div>
<div class="tri" style="left:519px;top:454px"></div>
<div class="t a" style="left:1.00px;width:27.45px;text-align:center;top:522.00px;font-size:10.6px;font-weight:400;color:#1a3510">32</div>
<div class="t b" style="left:30.35px;top:497.00px;font-size:10.7px;font-weight:700;color:#000">&nbsp;Гюнай(детская&nbsp;одежда</div>
<div class="t b" style="left:30.35px;top:513.00px;font-size:10.7px;font-weight:700;color:#000">из Турции,+ в дневнике)</div>
<div class="t b" style="left:165.45px;width:37.03px;text-align:center;top:522.50px;font-size:10.0px;font-weight:700;color:#000">156</div>
<div class="t b" style="left:202.48px;width:36.07px;text-align:center;top:522.50px;font-size:10.0px;font-weight:700;color:#000">62,9</div>
<div class="t" style="right:292.30px;top:522.00px;font-size:10.6px;font-weight:400;color:#000">0</div>
<div class="t" style="right:253.64px;top:522.00px;font-size:10.6px;font-weight:400;color:#000">0</div>
<div class="t" style="right:218.22px;top:522.00px;font-size:10.6px;font-weight:400;color:#000">-1,1</div>
<div class="t" style="right:176.22px;top:522.00px;font-size:10.6px;font-weight:400;color:#000">-1,1</div>
<div class="t" style="right:144.22px;top:522.00px;font-size:10.6px;font-weight:400;color:#000">61,8</div>
<div class="t b" style="right:115.32px;top:522.50px;font-size:10.0px;font-weight:700;color:#2B3550">5,8</div>
<div class="t b" style="left:656.48px;width:60.26px;text-align:center;top:522.50px;font-size:10.0px;font-weight:700;color:#BE2426">56</div>
<div class="t b" style="left:716.74px;width:52.76px;text-align:center;top:522.50px;font-size:10.0px;font-weight:700;color:#BE2426">-1,7</div>
<div class="tri" style="left:444px;top:487px"></div>
<div class="tri" style="left:481px;top:487px"></div>
<div class="tri" style="left:519px;top:487px"></div>
<div class="t a" style="left:1.00px;width:27.45px;text-align:center;top:539.00px;font-size:10.6px;font-weight:400;color:#1a3510">33</div>
<div class="t b" style="left:30.35px;top:538.00px;font-size:10.7px;font-weight:700;color:#000">&nbsp;Ирина&nbsp;(Бобруйск)</div>
<div class="t b" style="left:165.45px;width:37.03px;text-align:center;top:539.50px;font-size:10.0px;font-weight:700;color:#000">175</div>
<div class="t b" style="left:202.48px;width:36.07px;text-align:center;top:539.50px;font-size:10.0px;font-weight:700;color:#000">74,5</div>
<div class="t" style="right:292.30px;top:539.00px;font-size:10.6px;font-weight:400;color:#000">0</div>
<div class="t" style="right:253.64px;top:539.00px;font-size:10.6px;font-weight:400;color:#000">0</div>
<div class="t" style="right:218.22px;top:539.00px;font-size:10.6px;font-weight:400;color:#000">0,5</div>
<div class="t" style="right:176.22px;top:539.00px;font-size:10.6px;font-weight:400;color:#000">0,5</div>
<div class="t" style="right:144.22px;top:539.00px;font-size:10.6px;font-weight:400;color:#000">75</div>
<div class="t b" style="right:115.32px;top:539.50px;font-size:10.0px;font-weight:700;color:#2B3550">7</div>
<div class="t b" style="left:656.48px;width:60.26px;text-align:center;top:539.50px;font-size:10.0px;font-weight:700;color:#BE2426">68</div>
<div class="t b" style="left:716.74px;width:52.76px;text-align:center;top:539.50px;font-size:10.0px;font-weight:700;color:#BE2426">0,7</div>
<div class="tri" style="left:481px;top:537px"></div>
<div class="tri" style="left:519px;top:537px"></div>
<div class="t a" style="left:1.00px;width:27.45px;text-align:center;top:557.00px;font-size:10.6px;font-weight:400;color:#1a3510">34</div>
<div class="t b" style="left:30.35px;top:556.00px;font-size:10.7px;font-weight:700;color:#000">&nbsp;ELENA</div>
<div class="t b" style="left:165.45px;width:37.03px;text-align:center;top:557.50px;font-size:10.0px;font-weight:700;color:#000">164</div>
<div class="t b" style="left:202.48px;width:36.07px;text-align:center;top:557.50px;font-size:10.0px;font-weight:700;color:#000">65</div>
<div class="t" style="right:292.30px;top:557.00px;font-size:10.6px;font-weight:400;color:#000">0</div>
<div class="t" style="right:253.64px;top:557.00px;font-size:10.6px;font-weight:400;color:#000">-1,1</div>
<div class="t" style="right:218.22px;top:557.00px;font-size:10.6px;font-weight:400;color:#000">-2,2</div>
<div class="t" style="right:176.22px;top:557.00px;font-size:10.6px;font-weight:400;color:#000">-3,3</div>
<div class="t" style="right:144.22px;top:557.00px;font-size:10.6px;font-weight:400;color:#000">61,7</div>
<div class="t b" style="right:115.32px;top:557.50px;font-size:10.0px;font-weight:700;color:#2B3550">3,7</div>
<div class="t b" style="left:656.48px;width:60.26px;text-align:center;top:557.50px;font-size:10.0px;font-weight:700;color:#BE2426">58</div>
<div class="t b" style="left:716.74px;width:52.76px;text-align:center;top:557.50px;font-size:10.0px;font-weight:700;color:#BE2426">-5,1</div>
<div class="tri" style="left:444px;top:553px"></div>
<div class="tri" style="left:481px;top:553px"></div>
<div class="tri" style="left:519px;top:553px"></div>
<div class="t a" style="left:1.00px;width:27.45px;text-align:center;top:574.00px;font-size:10.6px;font-weight:400;color:#1a3510">37</div>
<div class="t b" style="left:30.35px;top:574.00px;font-size:10.7px;font-weight:700;color:#000">&nbsp;Оксана&nbsp;(Майкоп)</div>
<div class="t b" style="left:165.45px;width:37.03px;text-align:center;top:574.50px;font-size:10.0px;font-weight:700;color:#000">172</div>
<div class="t b" style="left:202.48px;width:36.07px;text-align:center;top:574.50px;font-size:10.0px;font-weight:700;color:#000">78</div>
<div class="t" style="right:504.22px;top:574.00px;font-size:10.6px;font-weight:400;color:#000">0,2</div>
<div class="t" style="right:292.30px;top:574.00px;font-size:10.6px;font-weight:400;color:#000">0,2</div>
<div class="t" style="right:253.64px;top:574.00px;font-size:10.6px;font-weight:400;color:#000">-1,1</div>
<div class="t" style="right:218.22px;top:574.00px;font-size:10.6px;font-weight:400;color:#000">-1,4</div>
<div class="t" style="right:176.22px;top:574.00px;font-size:10.6px;font-weight:400;color:#000">-2,3</div>
<div class="t" style="right:144.22px;top:574.00px;font-size:10.6px;font-weight:400;color:#000">75,7</div>
<div class="t b" style="right:115.32px;top:574.50px;font-size:10.0px;font-weight:700;color:#2B3550">5,7</div>
<div class="t b" style="left:656.48px;width:60.26px;text-align:center;top:574.50px;font-size:10.0px;font-weight:700;color:#BE2426">70</div>
<div class="t b" style="left:716.74px;width:52.76px;text-align:center;top:574.50px;font-size:10.0px;font-weight:700;color:#BE2426">-2,9</div>
<div class="tri" style="left:444px;top:572px"></div>
<div class="tri" style="left:481px;top:572px"></div>
<div class="tri" style="left:519px;top:572px"></div>
<div class="t a" style="left:1.00px;width:27.45px;text-align:center;top:607.00px;font-size:10.6px;font-weight:400;color:#1a3510">41</div>
<div class="t b" style="left:30.35px;top:590.00px;font-size:10.7px;font-weight:700;color:#000">Елена (Модная одежда</div>
<div class="t b" style="left:30.35px;top:606.00px;font-size:10.7px;font-weight:700;color:#000">для мальчиков)</div>
<div class="t b" style="left:165.45px;width:37.03px;text-align:center;top:607.50px;font-size:10.0px;font-weight:700;color:#000">162</div>
<div class="t b" style="left:202.48px;width:36.07px;text-align:center;top:607.50px;font-size:10.0px;font-weight:700;color:#000">61,5</div>
<div class="t" style="right:292.30px;top:607.00px;font-size:10.6px;font-weight:400;color:#000">0</div>
<div class="t" style="right:253.64px;top:607.00px;font-size:10.6px;font-weight:400;color:#000">-0,7</div>
<div class="t" style="right:218.22px;top:607.00px;font-size:10.6px;font-weight:400;color:#000">-0,9</div>
<div class="t" style="right:176.22px;top:607.00px;font-size:10.6px;font-weight:400;color:#000">-1,6</div>
<div class="t" style="right:144.22px;top:607.00px;font-size:10.6px;font-weight:400;color:#000">59,9</div>
<div class="t b" style="right:115.32px;top:607.50px;font-size:10.0px;font-weight:700;color:#2B3550">4,9</div>
<div class="t b" style="left:656.48px;width:60.26px;text-align:center;top:607.50px;font-size:10.0px;font-weight:700;color:#BE2426">55</div>
<div class="t b" style="left:716.74px;width:52.76px;text-align:center;top:607.50px;font-size:10.0px;font-weight:700;color:#BE2426">-2,6</div>
<div class="tri" style="left:444px;top:589px"></div>
<div class="tri" style="left:481px;top:589px"></div>
<div class="tri" style="left:519px;top:589px"></div>
<div class="t a" style="left:1.00px;width:27.45px;text-align:center;top:624.00px;font-size:10.6px;font-weight:400;color:#1a3510">42</div>
<div class="t b" style="left:30.35px;top:623.00px;font-size:10.7px;font-weight:700;color:#000">РегинаЯ</div>
<div class="t b" style="left:165.45px;width:37.03px;text-align:center;top:624.50px;font-size:10.0px;font-weight:700;color:#000">171</div>
<div class="t b" style="left:202.48px;width:36.07px;text-align:center;top:624.50px;font-size:10.0px;font-weight:700;color:#000">66,5</div>
<div class="t" style="right:292.30px;top:624.00px;font-size:10.6px;font-weight:400;color:#000">0</div>
<div class="t" style="right:253.64px;top:624.00px;font-size:10.6px;font-weight:400;color:#000">-1,7</div>
<div class="t" style="right:218.22px;top:624.00px;font-size:10.6px;font-weight:400;color:#000">-2,3</div>
<div class="t" style="right:176.22px;top:624.00px;font-size:10.6px;font-weight:400;color:#000">-4</div>
<div class="t" style="right:144.22px;top:624.00px;font-size:10.6px;font-weight:400;color:#000">62,5</div>
<div class="t b" style="right:115.32px;top:624.50px;font-size:10.0px;font-weight:700;color:#2B3550">5,5</div>
<div class="t b" style="left:656.48px;width:60.26px;text-align:center;top:624.50px;font-size:10.0px;font-weight:700;color:#BE2426">57</div>
<div class="t b" style="left:716.74px;width:52.76px;text-align:center;top:624.50px;font-size:10.0px;font-weight:700;color:#BE2426">-6,0</div>
<div class="tri" style="left:444px;top:622px"></div>
<div class="tri" style="left:481px;top:622px"></div>
<div class="tri" style="left:519px;top:622px"></div>
<div class="t a" style="left:1.00px;width:27.45px;text-align:center;top:640.00px;font-size:10.6px;font-weight:400;color:#1a3510">43</div>
<div class="t b" style="left:30.35px;top:640.00px;font-size:10.7px;font-weight:700;color:#000">Ольга</div>
<div class="t b" style="left:165.45px;width:37.03px;text-align:center;top:640.50px;font-size:10.0px;font-weight:700;color:#000">168</div>
<div class="t b" style="left:202.48px;width:36.07px;text-align:center;top:640.50px;font-size:10.0px;font-weight:700;color:#000">85</div>
<div class="t" style="right:504.22px;top:640.00px;font-size:10.6px;font-weight:400;color:#000">-0,1</div>
<div class="t" style="right:292.30px;top:640.00px;font-size:10.6px;font-weight:400;color:#000">-0,1</div>
<div class="t" style="right:253.64px;top:640.00px;font-size:10.6px;font-weight:400;color:#000">-2</div>
<div class="t" style="right:218.22px;top:640.00px;font-size:10.6px;font-weight:400;color:#000">-4</div>
<div class="t" style="right:176.22px;top:640.00px;font-size:10.6px;font-weight:400;color:#000">-6,1</div>
<div class="t" style="right:144.22px;top:640.00px;font-size:10.6px;font-weight:400;color:#000">78,9</div>
<div class="t b" style="right:115.32px;top:640.50px;font-size:10.0px;font-weight:700;color:#2B3550">8,9</div>
<div class="t b" style="left:656.48px;width:60.26px;text-align:center;top:640.50px;font-size:10.0px;font-weight:700;color:#BE2426">70</div>
<div class="t b" style="left:716.74px;width:52.76px;text-align:center;top:640.50px;font-size:10.0px;font-weight:700;color:#BE2426">-7,2</div>
<div class="tri" style="left:444px;top:638px"></div>
<div class="tri" style="left:481px;top:638px"></div>
<div class="tri" style="left:519px;top:638px"></div>
</body></html>
